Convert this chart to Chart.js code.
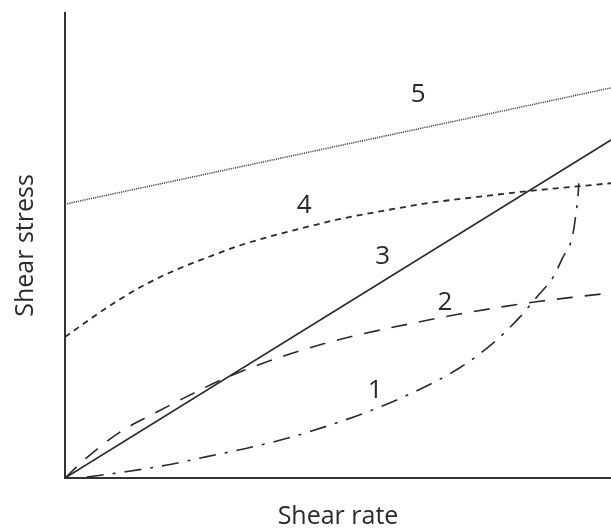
<!DOCTYPE html>
<html>
<head>
<meta charset="utf-8">
<script src="https://cdn.jsdelivr.net/npm/chart.js@4"></script>
<style>
  html, body { margin: 0; padding: 0; background: #ffffff; }
  #wrap { width: 611px; height: 530px; }
</style>
</head>
<body>
<div id="wrap"><canvas id="c" width="611" height="530"></canvas></div>
<script>
// Curve 1 (dash-dot)
const x1 = [4, 11.4, 18.7, 26.0, 33.3, 41.2, 49.1, 57.1, 64.5, 72.3, 78.4, 83.3, 86.4, 89.4, 91.2, 92.9, 93.6, 94.0, 94.1];
const y1 = [0.2, 1.4, 2.8, 4.6, 6.4, 8.7, 11.6, 15.0, 18.8, 23.7, 29.0, 34.6, 38.9, 43.2, 47.5, 51.8, 57.0, 61.3, 63.4];
// Curve 2 (long dash)
const x2 = [0, 4, 10, 17, 24, 29, 37, 44, 51, 58, 65, 72, 80, 87, 94, 100];
const y2 = [0, 4.4, 9.8, 14.3, 18.5, 21.3, 25.0, 27.7, 30.0, 31.9, 33.6, 35.2, 36.8, 38.0, 39.0, 39.8];
// Curve 3 (solid, straight)
const x3 = [0, 100];
const y3 = [0, 72.7];
// Curve 4 (short dash)
const x4 = [0, 5, 10, 15, 20, 26, 32, 39, 45, 50, 58, 67, 76, 84, 91, 100];
const y4 = [30.3, 34.5, 38.4, 41.8, 44.6, 47.4, 50.0, 52.4, 54.2, 55.6, 57.4, 59.2, 60.5, 61.6, 62.4, 63.4];
// Curve 5 (dotted, straight)
const x5 = [0, 100];
const y5 = [58.9, 83.9];
// Curve labels and their anchor points (data units)
const curveLabels = ['1', '2', '3', '4', '5'];
const labelX = [56.8, 69.6, 58.2, 43.8, 64.7];
const labelY = [18.9, 37.8, 47.7, 58.5, 82.4];
const xTitle = 'Shear rate';
const yTitle = 'Shear stress';

const pts = (xs, ys) => xs.map((x, i) => ({ x: x, y: ys[i] }));
const ink = '#2a2a2a';

const labelPlugin = {
  id: 'curveLabels',
  afterDatasetsDraw(chart) {
    const { ctx, scales: { x, y } } = chart;
    ctx.save();
    ctx.fillStyle = ink;
    ctx.font = '26px "Open Sans"';
    ctx.textAlign = 'center';
    ctx.textBaseline = 'middle';
    curveLabels.forEach((t, i) => {
      ctx.fillText(t, x.getPixelForValue(labelX[i]), y.getPixelForValue(labelY[i]));
    });
    ctx.restore();
  }
};

const common = { showLine: true, pointRadius: 0, fill: false, borderColor: ink, cubicInterpolationMode: 'monotone' };

new Chart(document.getElementById('c'), {
  type: 'scatter',
  data: {
    datasets: [
      Object.assign({ label: '1', data: pts(x1, y1), borderWidth: 1.6, borderDash: [17, 9, 3, 9] }, common),
      Object.assign({ label: '2', data: pts(x2, y2), borderWidth: 1.6, borderDash: [16, 12] }, common),
      Object.assign({ label: '3', data: pts(x3, y3), borderWidth: 1.6 }, common),
      Object.assign({ label: '4', data: pts(x4, y4), borderWidth: 1.8, borderDash: [6, 5] }, common),
      Object.assign({ label: '5', data: pts(x5, y5), borderWidth: 1.5, borderDash: [1.2, 1], borderColor: '#444' }, { showLine: true, pointRadius: 0, fill: false })
    ]
  },
  options: {
    responsive: false,
    animation: false,
    events: [],
    layout: { padding: { left: 0, right: 0, top: 13, bottom: 0 } },
    plugins: { legend: { display: false }, tooltip: { enabled: false } },
    scales: {
      x: {
        type: 'linear', min: 0, max: 100,
        grid: { display: false, drawTicks: false },
        border: { display: true, color: '#333', width: 2 },
        ticks: { display: false },
        title: { display: true, text: xTitle, color: ink,
                 font: { family: 'Open Sans', size: 25, lineHeight: 1.0 },
                 padding: { top: 26.5, bottom: 0.5 } }
      },
      y: {
        type: 'linear', min: 0, max: 100,
        grid: { display: false, drawTicks: false },
        border: { display: true, color: '#333', width: 2 },
        ticks: { display: false },
        title: { display: true, text: yTitle, color: ink,
                 font: { family: 'Open Sans', size: 25, lineHeight: 1.2 },
                 padding: { top: 11, bottom: 24 } }
      }
    }
  },
  plugins: [labelPlugin]
});
</script>
</body>
</html>
